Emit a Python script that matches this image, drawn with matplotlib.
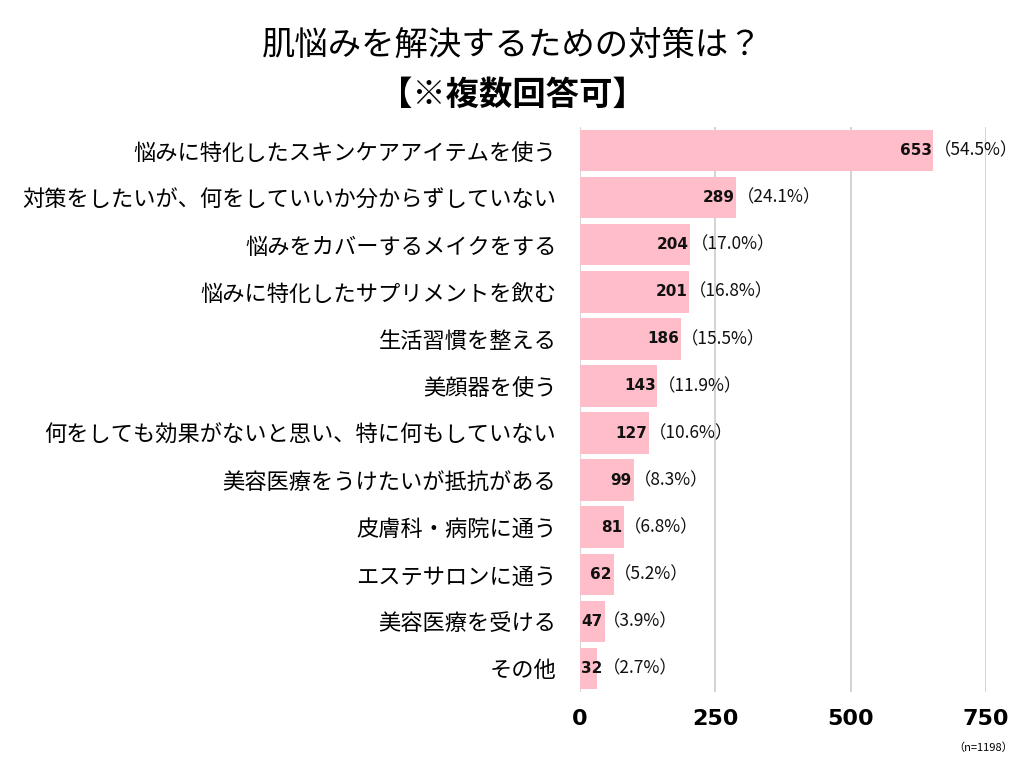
import numpy as np
import matplotlib.pyplot as plt

plt.rcParams['font.family'] = ['Noto Sans CJK JP', 'DejaVu Sans']
num_font = ['DejaVu Sans', 'Noto Sans CJK JP']

labels = ["悩みに特化したスキンケアアイテムを使う",
          "対策をしたいが、何をしていいか分からずしていない",
          "悩みをカバーするメイクをする",
          "悩みに特化したサプリメントを飲む",
          "生活習慣を整える",
          "美顔器を使う",
          "何をしても効果がないと思い、特に何もしていない",
          "美容医療をうけたいが抵抗がある",
          "皮膚科・病院に通う",
          "エステサロンに通う",
          "美容医療を受ける",
          "その他"]
counts = [653, 289, 204, 201, 186, 143, 127, 99, 81, 62, 47, 32]
pcts = [54.5, 24.1, 17.0, 16.8, 15.5, 11.9, 10.6, 8.3, 6.8, 5.2, 3.9, 2.7]
xticks = [0, 250, 500, 750]

fig = plt.figure(figsize=(10.24, 7.68), dpi=100)
ax = fig.add_axes([580/1024, 1-692/768, 406/1024, 565/768])

y = np.arange(len(labels))
ax.barh(y, counts, height=0.88, color='#ffbdc9', zorder=2)
ax.set_ylim(len(labels)-0.5, -0.5)
ax.set_xlim(0, 750)

for i, (c, p) in enumerate(zip(counts, pcts)):
    if c < 50:
        ax.text(2, i, str(c), ha='left', va='center', fontsize=11,
                family=num_font, fontweight='bold', color='#111111', zorder=3)
        px = 42
    else:
        ax.text(c - 3, i, str(c), ha='right', va='center', fontsize=11,
                family=num_font, fontweight='bold', color='#111111', zorder=3)
        px = c + 1
    ax.text(px, i, "（%.1f%%）" % p, ha='left', va='center', fontsize=12.5,
            color='#111111', zorder=3)

ax.set_yticks(y)
ax.set_yticklabels(labels, fontsize=16)
ax.set_xticks(xticks)
ax.set_xticklabels([str(t) for t in xticks], fontsize=16, family=num_font,
                   fontweight='bold')
ax.tick_params(axis='both', length=0)
ax.tick_params(axis='y', pad=17)
ax.tick_params(axis='x', pad=12)
ax.grid(axis='x', color='#cccccc', linewidth=1.2, zorder=0)
for s in ax.spines.values():
    s.set_visible(False)

fig.text(0.5, 1-45/768, "肌悩みを解決するための対策は？", ha='center', va='center', fontsize=24)
fig.text(0.5, 1-95/768, "【※複数回答可】", ha='center', va='center', fontsize=24, fontweight='bold')
fig.text(983/1024, 1-748/768, "（n=1198）", ha='center', va='center', fontsize=8)

fig.savefig('out.png', dpi=100)
